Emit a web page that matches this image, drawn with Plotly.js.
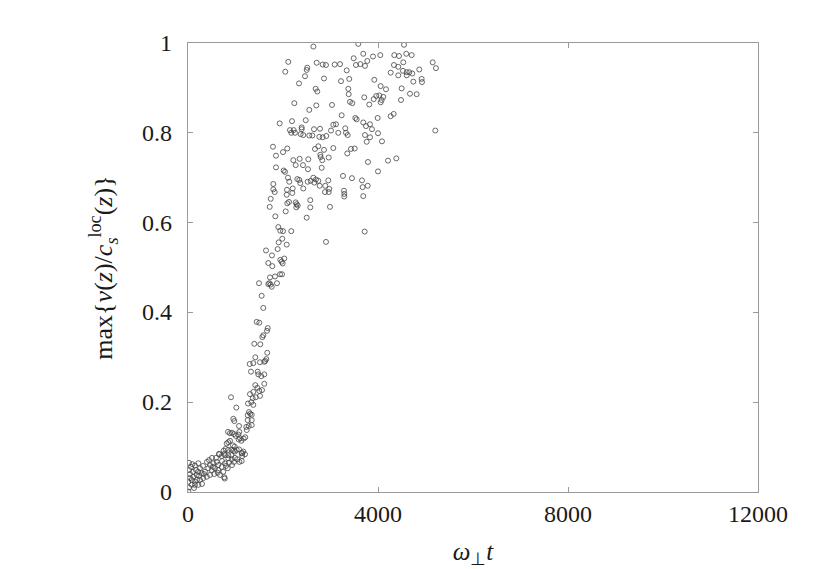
<!DOCTYPE html>
<html>
<head>
<meta charset="utf-8">
<script src="https://cdn.plot.ly/plotly-3.0.1.min.js"></script>
<style>html,body{margin:0;padding:0;background:#fff;}#chart{width:830px;height:569px;}</style>
</head>
<body>
<div id="chart"></div>
<script>
// omega_perp * t values
const timeUpper = [2640,3585,4547,2111,2048,2511,2499,2709,2835,2905,3088,3200,3488,3690,3894,4048,3627,3536,3726,3774,3341,4343,4442,4595,4709,4336,4427,4532,4267,4427,4526,4604,4659,4722,4604,4869,5151,5220,4919,4926,4743,2463,2863,2337,3221,3395,2688,2722,3374,3383,3922,4056,4168,3964,4027,4111,4077,4056,3909,3711,3816,4498,4673,4814,4484,3410,3459,2238,2701,3031,2553,3235,3522,3551,3993,4267,4330,5206];
const velUpper  = [0.992,0.998,0.996,0.958,0.936,0.945,0.940,0.956,0.952,0.951,0.952,0.953,0.966,0.976,0.970,0.973,0.953,0.951,0.949,0.960,0.939,0.973,0.971,0.976,0.973,0.951,0.947,0.957,0.934,0.928,0.938,0.935,0.935,0.932,0.928,0.941,0.957,0.944,0.920,0.913,0.914,0.926,0.921,0.910,0.915,0.920,0.898,0.892,0.898,0.886,0.918,0.904,0.897,0.882,0.883,0.880,0.873,0.868,0.875,0.879,0.863,0.899,0.887,0.886,0.873,0.869,0.866,0.866,0.861,0.862,0.851,0.839,0.833,0.830,0.833,0.837,0.842,0.805];

const timeMid = [1930,2189,2478,2147,2225,2252,2174,2393,2372,2427,2393,2553,2617,2652,2779,2764,2835,2911,3010,3059,3115,3164,3311,3326,3362,3690,3747,3831,3873,4000,3726,3831,3762,4084,1789,1852,2000,2090,1852,2673,2743,2863,2785,2793,2827,3059,3353,3431,3509,2962,2217,2267,2351,2421,2532,2526,2014,2042,2814,3789,4210,4385,4000,2105,2132,2301,2343,2364,2427,2520,2583,2638,2694,2659,2743,2772,2890,2953,2974,2884,2962,3263,3452,3663,3284,3290,3290,3677,3783,3690,1796,1796,1825,1741,1720,2084,2204,2196,2078,2126,2090,2267,2288,2309,2280,2574,2574,2989,2057,1838,2499,1901,1943,2000,2174,1985,3720,2905];
const velMid  = [0.821,0.826,0.828,0.806,0.806,0.800,0.800,0.812,0.797,0.795,0.808,0.794,0.794,0.808,0.809,0.791,0.790,0.793,0.805,0.818,0.819,0.800,0.810,0.800,0.795,0.823,0.815,0.819,0.808,0.799,0.795,0.790,0.780,0.781,0.769,0.749,0.757,0.765,0.723,0.764,0.770,0.762,0.751,0.746,0.739,0.766,0.754,0.764,0.765,0.745,0.739,0.728,0.742,0.728,0.741,0.719,0.716,0.713,0.722,0.735,0.738,0.743,0.714,0.700,0.691,0.697,0.695,0.688,0.676,0.691,0.693,0.700,0.696,0.689,0.693,0.682,0.682,0.694,0.675,0.668,0.668,0.704,0.699,0.694,0.671,0.664,0.658,0.679,0.682,0.659,0.686,0.674,0.668,0.653,0.635,0.673,0.676,0.666,0.662,0.646,0.643,0.645,0.641,0.638,0.634,0.650,0.634,0.635,0.625,0.614,0.611,0.590,0.582,0.581,0.581,0.564,0.580,0.557];

const timeRise = [1909,2078,1888,1642,1768,2027,1943,1972,1993,1690,1775,1937,1979,1726,1831,1495,1711,1741,1690,1762,1873,1551,1585,1446,1501,1678,1663,1585,1564,1396,1522,1669,1417,1648,1627,1606,1516,1375,1299,1326,1467,1480,1543,1606,1606,1417,1459,1558,1501,1375,1305,1516,1425,1362,905,1333,1375,1263,1017,1284,1311,1257,1341,954,975,1257,1341,1341,1278,1227,1074,842,884,926,968,1004,1059,1067,1095,1122,1206,1172,1236,1080,947,983,962,1025,1137,1164,848,884,815,794,848,751,911,989,1038,1143,1080,1130,920,653,709,779,848,773];
const velRise  = [0.556,0.551,0.541,0.538,0.527,0.520,0.517,0.513,0.509,0.510,0.503,0.485,0.485,0.478,0.480,0.465,0.465,0.462,0.463,0.457,0.465,0.437,0.410,0.379,0.377,0.365,0.359,0.349,0.345,0.330,0.329,0.310,0.300,0.296,0.292,0.290,0.289,0.287,0.285,0.268,0.268,0.262,0.258,0.262,0.241,0.238,0.232,0.227,0.225,0.223,0.218,0.214,0.211,0.209,0.211,0.200,0.194,0.197,0.188,0.178,0.174,0.171,0.172,0.163,0.158,0.160,0.160,0.149,0.147,0.145,0.147,0.134,0.131,0.132,0.129,0.125,0.128,0.117,0.120,0.114,0.122,0.119,0.138,0.134,0.104,0.101,0.092,0.094,0.087,0.090,0.111,0.114,0.108,0.096,0.094,0.092,0.082,0.076,0.073,0.080,0.067,0.069,0.073,0.085,0.080,0.082,0.075,0.030];

const timeEarly = [21,91,147,217,604,533,463,638,709,779,836,743,638,568,499,427,358,288,217,183,112,78,147,253,322,394,463,554,625,674,764,217,147,78,21,6,42,6,659,764,848,920,989,1074,1130,1200,316,400,505,589,442,253,168,105,42,232,337,526,716,800,863,926,968,21,63,295,126,190];
const velEarly  = [0.065,0.062,0.059,0.064,0.067,0.064,0.060,0.060,0.056,0.064,0.053,0.045,0.049,0.053,0.049,0.053,0.045,0.042,0.045,0.038,0.034,0.027,0.023,0.027,0.031,0.034,0.038,0.040,0.043,0.038,0.033,0.016,0.016,0.016,0.010,0.001,0.031,0.023,0.084,0.085,0.082,0.094,0.090,0.095,0.086,0.084,0.058,0.067,0.076,0.076,0.071,0.053,0.049,0.045,0.040,0.036,0.040,0.056,0.069,0.058,0.065,0.060,0.067,0.049,0.056,0.018,0.009,0.027];

const xTicks = [0,4000,8000,12000];
const xTickText = ["0","4000","8000","12000"];
const yTicks = [0,0.2,0.4,0.6,0.8,1];
const yTickText = ["0","0.2","0.4","0.6","0.8","1"];

const xs = timeUpper.concat(timeMid, timeRise, timeEarly);
const ys = velUpper.concat(velMid, velRise, velEarly);

const serif = "Liberation Serif";
const frameColor = "#9a9a9a";
const textColor = "#1a1a1a";

const trace = {
  x: xs, y: ys, type: "scatter", mode: "markers",
  marker: {symbol: "circle-open", size: 5, color: "#444", line: {width: 0.8, color: "#444"}},
  hoverinfo: "skip", showlegend: false
};

// y tick labels placed on the y scale, a little further from the frame
const yLabelAnnotations = yTicks.map((v, i) => ({
  text: yTickText[i], x: 0, xref: "paper", y: v, yref: "y",
  xanchor: "right", yanchor: "middle", xshift: -14, showarrow: false,
  font: {family: serif, size: 24, color: textColor}
}));

const layout = {
  width: 830, height: 569,
  margin: {l: 188, r: 72, t: 43, b: 77},
  paper_bgcolor: "#fff", plot_bgcolor: "#fff",
  font: {family: serif, size: 24, color: textColor},
  xaxis: {
    range: [0, 12000], tickvals: xTicks, ticktext: xTickText,
    ticks: "inside", ticklen: 5, tickwidth: 1, tickcolor: frameColor,
    showline: true, linecolor: frameColor, linewidth: 1.3, mirror: "ticks",
    showgrid: false, zeroline: false,
    tickfont: {family: serif, size: 24, color: textColor},
    title: {text: "<i>ω</i><sub>⊥</sub><i>t</i>", font: {family: serif, size: 25, color: textColor}, standoff: 24},
    automargin: false
  },
  yaxis: {
    range: [0, 1], tickvals: yTicks, showticklabels: false,
    ticks: "inside", ticklen: 5, tickwidth: 1, tickcolor: frameColor,
    showline: true, linecolor: frameColor, linewidth: 1.3, mirror: "ticks",
    showgrid: false, zeroline: false,
    title: {text: "max{<i>v</i>(<i>z</i>)/<i>c</i><sub><i>s</i></sub><sup>loc</sup>(<i>z</i>)}", font: {family: serif, size: 26, color: textColor}, standoff: 66},
    automargin: false
  },
  annotations: yLabelAnnotations
};

Plotly.newPlot("chart", [trace], layout, {staticPlot: true, displayModeBar: false});
</script>
</body>
</html>
